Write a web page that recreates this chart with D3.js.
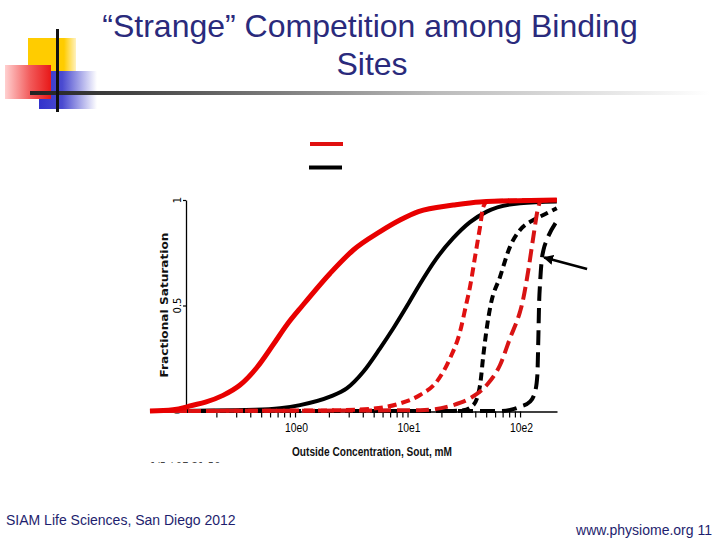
<!DOCTYPE html>
<html><head><meta charset="utf-8">
<script src="https://cdn.jsdelivr.net/npm/d3@7"></script>
<style>body{margin:0;background:#fff} svg{display:block}</style>
</head><body>
<svg id="c" width="720" height="540"></svg>
<script>
// ---- text ----
const titleLines = ["\u201CStrange\u201D Competition among Binding", "Sites"];
const footerLeft = "SIAM Life Sciences, San Diego 2012";
const footerRight = "www.physiome.org 11";
const xLabel = "Outside Concentration, Sout, mM";
const yLabel = "Fractional Saturation";
const stampText = "1/5 / 07 21:50";

// ---- ticks ----
const xMajorTicks = [1, 10, 100];
const xTickLabels = ["10e0", "10e1", "10e2"];
const xMinorTicks = [0.2,0.3,0.4,0.5,0.6,0.7,0.8,0.9,2,3,4,5,6,7,8,9,20,30,40,50,60,70,80,90];
const yTickValues = [0, 0.5, 1];
const yTickLabels = ["0", "0.5", "1"];

// ---- series: [concentration mM, fractional saturation] ----
const redSolid = [[0.0514,0],[0.0824,0.006],[0.1051,0.017],[0.1166,0.024],[0.16,0.042],[0.229,0.074],[0.3244,0.123],[0.4565,0.205],[0.641,0.315],[0.85,0.41],[1.166,0.50],[2.047,0.652],[3.298,0.763],[5.699,0.85],[8.573,0.905],[12.48,0.945],[25.54,0.976],[44.0,0.991],[212,1.0]];
const blackSolid = [[0.0514,0],[0.441,0.006],[0.736,0.013],[1.108,0.028],[2.047,0.068],[2.881,0.107],[4.046,0.186],[5.699,0.297],[7.478,0.392],[10.0,0.502],[12.66,0.595],[17.92,0.72],[25.54,0.82],[35.94,0.895],[50.6,0.945],[100,0.985],[212,0.993]];
const redDashShort = [[0.0514,0],[2.047,0.003],[4.642,0.01],[8.573,0.036],[12.92,0.076],[18.18,0.139],[23.87,0.25],[29.29,0.376],[33.11,0.502],[35.94,0.589],[39.81,0.731],[44.11,0.873],[47.19,0.968],[51.95,0.995],[212,1.0]];
const blackDashShort = [[0.0514,0],[19.45,0.0],[31.14,0.003],[38.46,0.028],[44.11,0.123],[47.19,0.265],[50.58,0.392],[54.67,0.5],[66.41,0.636],[81.5,0.779],[100,0.858],[131.3,0.905],[172.8,0.937],[212,0.961]];
const redDashLong = [[0.0514,0],[12.92,0.004],[25.54,0.028],[35.94,0.06],[50.58,0.123],[66.41,0.218],[81.5,0.345],[100,0.471],[103.5,0.5],[118.5,0.668],[131.3,0.826],[145.4,0.968],[153.7,0.997],[212,1.0]];
const blackDashLong = [[0.0514,0],[66.41,0.0],[81.5,0.005],[100,0.02],[122.7,0.044],[135.9,0.091],[142.5,0.17],[145.4,0.346],[147.5,0.5],[150.6,0.605],[155.9,0.716],[161.8,0.765],[172.8,0.81],[212,0.9]];
const arrowTarget = [157, 0.73];

const svg = d3.select("#c");
const defs = svg.append("defs");

// ---- decoration gradients ----
function hGrad(id, stops){
  const g = defs.append("linearGradient").attr("id", id).attr("x1","0").attr("x2","1").attr("y1","0").attr("y2","0");
  stops.forEach(s => g.append("stop").attr("offset", s[0]).attr("stop-color", s[1]).attr("stop-opacity", s[2] ?? 1));
}
hGrad("gY", [[0,"#ffcc00"],[0.75,"#ffcc00"],[1,"#fff2c0"]]);
hGrad("gB", [[0,"#3333cc"],[0.4,"#4a4ad0"],[1,"#ffffff"]]);
hGrad("gR", [[0,"#ffd0d0"],[0.55,"#f25a5a"],[1,"#e81818"]]);
hGrad("gL", [[0,"#222222"],[0.15,"#444444"],[0.6,"#bbbbbb"],[1,"#ffffff"]]);

const deco = svg.append("g");
deco.append("rect").attr("x",28).attr("y",38).attr("width",48).attr("height",36).attr("fill","url(#gY)");
deco.append("rect").attr("x",39).attr("y",71).attr("width",58).attr("height",38).attr("fill","url(#gB)");
deco.append("rect").attr("x",5).attr("y",65).attr("width",46).attr("height",34).attr("fill","url(#gR)");
deco.append("rect").attr("x",30).attr("y",91).attr("width",680).attr("height",4).attr("fill","url(#gL)");
deco.append("rect").attr("x",56).attr("y",29).attr("width",3).attr("height",83).attr("fill","#111");

// ---- title ----
const navy = "#2a2a7c";
svg.append("text").attr("x",370).attr("y",37).attr("text-anchor","middle")
  .attr("font-family","Liberation Sans, Arial, sans-serif").attr("font-size",32).attr("fill",navy).text(titleLines[0]);
svg.append("text").attr("x",372).attr("y",75).attr("text-anchor","middle")
  .attr("font-family","Liberation Sans, Arial, sans-serif").attr("font-size",32).attr("fill",navy).text(titleLines[1]);

// ---- footer ----
svg.append("text").attr("x",6).attr("y",525).attr("font-family","Liberation Sans, Arial, sans-serif")
  .attr("font-size",14).attr("fill","#1e1e6e").text(footerLeft);
svg.append("text").attr("x",712).attr("y",535).attr("text-anchor","end").attr("font-family","Liberation Sans, Arial, sans-serif")
  .attr("font-size",14).attr("fill","#1e1e6e").text(footerRight);

// ---- scales ----
const x = d3.scaleLog().domain([0.1074, 213]).range([186, 557]);
const y = d3.scaleLinear().domain([0, 1]).range([411, 200]);

// ---- axes ----
const xAxis = svg.append("g").attr("transform","translate(0,411.5)")
  .call(d3.axisBottom(x).tickValues(xMinorTicks.concat(xMajorTicks)).tickSize(6).tickSizeOuter(0).tickFormat(""));
xAxis.select(".domain").attr("stroke","#000").attr("stroke-width",1.3);
xAxis.selectAll(".tick line").attr("stroke","#000").attr("stroke-width",1.2);

const yAxis = svg.append("g").attr("transform","translate(186,0)")
  .call(d3.axisLeft(y).tickValues(yTickValues).tickSize(3).tickSizeOuter(0).tickFormat(""));
yAxis.select(".domain").attr("stroke","#000").attr("stroke-width",1.3);
yAxis.selectAll(".tick line").attr("stroke","#000").attr("stroke-width",1.2);

xMajorTicks.forEach((v,i) => {
  svg.append("text").attr("x", x(v)+1.5).attr("y", 432).attr("text-anchor","middle")
    .attr("font-family","Liberation Sans, Arial, sans-serif").attr("font-size",12)
    .attr("textLength",23).attr("lengthAdjust","spacingAndGlyphs").attr("fill","#000").text(xTickLabels[i]);
});
yTickValues.forEach((v,i) => {
  svg.append("text").attr("transform",`translate(180.5,${y(v)}) rotate(-90)`).attr("text-anchor","middle")
    .attr("font-family","DejaVu Sans, sans-serif").attr("font-size",10).attr("fill","#000").text(yTickLabels[i]);
});
svg.append("text").attr("x",372).attr("y",456).attr("text-anchor","middle")
  .attr("font-family","Liberation Sans, Arial, sans-serif").attr("font-size",13).attr("font-weight","bold")
  .attr("textLength",160).attr("lengthAdjust","spacingAndGlyphs").attr("fill","#111").text(xLabel);
svg.append("text").attr("transform","translate(168,305) rotate(-90)").attr("text-anchor","middle")
  .attr("font-family","DejaVu Sans, sans-serif").attr("font-size",11).attr("font-weight","bold")
  .attr("textLength",145).attr("lengthAdjust","spacingAndGlyphs").attr("fill","#111").text(yLabel);

// clipped stamp text at bottom edge of the pasted image
defs.append("clipPath").attr("id","stampClip").append("rect").attr("x",140).attr("y",455).attr("width",120).attr("height",8);
svg.append("text").attr("x",150).attr("y",470).attr("clip-path","url(#stampClip)")
  .attr("font-family","DejaVu Sans, sans-serif").attr("font-size",10).attr("fill","#444").text(stampText);

// ---- lines ----
const line = d3.line().x(d => x(d[0])).y(d => y(d[1])).curve(d3.curveMonotoneX);
const series = [
  {data: blackDashLong, color:"#000", w:4, dash:"15,7"},
  {data: blackDashShort, color:"#000", w:4, dash:"8,5"},
  {data: blackSolid, color:"#000", w:4, dash:null},
  {data: redDashLong, color:"#d81414", w:4, dash:"13,6"},
  {data: redDashShort, color:"#e01010", w:4, dash:"9,5"},
  {data: redSolid, color:"#e80000", w:5, dash:null}
];
const lg = svg.append("g").attr("fill","none");
series.forEach(s => {
  lg.append("path").datum(s.data).attr("d", line).attr("stroke", s.color).attr("stroke-width", s.w)
    .attr("stroke-dasharray", s.dash).attr("stroke-linejoin","round");
});

// ---- legend swatches ----
svg.append("line").attr("x1",310).attr("x2",343).attr("y1",144).attr("y2",144).attr("stroke","#e01010").attr("stroke-width",4);
svg.append("line").attr("x1",309).attr("x2",342).attr("y1",167.5).attr("y2",167.5).attr("stroke","#000").attr("stroke-width",4);

// ---- arrow ----
defs.append("marker").attr("id","ah").attr("viewBox","0 0 10 10").attr("refX",9).attr("refY",5)
  .attr("markerWidth",4).attr("markerHeight",4).attr("orient","auto")
  .append("path").attr("d","M0,0 L10,5 L0,10 z").attr("fill","#000");
const tx = x(arrowTarget[0]), ty = y(arrowTarget[1]);
svg.append("line").attr("x1", tx+45).attr("y1", ty+12).attr("x2", tx+2).attr("y2", ty+0.5)
  .attr("stroke","#000").attr("stroke-width",2.5).attr("marker-end","url(#ah)");
</script>
</body></html>
